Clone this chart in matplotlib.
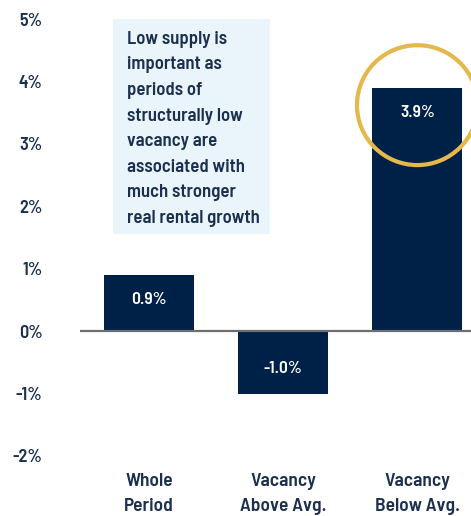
import matplotlib
matplotlib.use("Agg")
import matplotlib.pyplot as plt
from matplotlib.patches import Rectangle, Ellipse

categories = ["Whole\nPeriod", "Vacancy\nAbove Avg.", "Vacancy\nBelow Avg."]
values = [0.9, -1.0, 3.9]
value_labels = ["0.9%", "-1.0%", "3.9%"]
yticks = [-2, -1, 0, 1, 2, 3, 4, 5]
ytick_labels = ["-2%", "-1%", "0%", "1%", "2%", "3%", "4%", "5%"]
note = "Low supply is\nimportant as\nperiods of\nstructurally low\nvacancy are\nassociated with\nmuch stronger\nreal rental growth"

plt.rcParams['font.family'] = ["Barlow Semi Condensed", 'DejaVu Sans']

navy = "#002147"
txt = "#1B2F4E"

fig = plt.figure(figsize=(4.71, 5.16), dpi=100)
ax = fig.add_axes([80/471, (516-456)/516, 391/471, (456-19)/516])
x = list(range(len(categories)))
ax.bar(x, values, width=0.67, color=navy, zorder=2)
ax.axhline(0, color="#6D6E71", lw=1.6, zorder=3)
ax.set_xlim(-0.515, 2.4)
ax.set_ylim(-2, 5)
for s in ax.spines.values():
    s.set_visible(False)
ax.set_yticks(yticks)
ax.set_yticklabels(ytick_labels, fontsize=13, color=txt, fontweight="semibold")
ax.tick_params(axis="y", length=0, pad=27)
ax.set_xticks([])

for xi, v, l in zip(x, values, value_labels):
    ypos = v - 0.4 if v > 0 else v + 0.4
    ax.text(xi, ypos, l, ha="center", va="center", color="white",
            fontsize=12.5, fontweight="semibold", zorder=4)

for xi, c in zip(x, categories):
    ax.text(xi, -2.27, c, ha="center", va="top", color=txt, fontsize=14,
            fontweight="semibold", linespacing=1.6, clip_on=False)

# note box
ax.add_patch(Rectangle((-0.27, 1.55), 1.17, 3.46, facecolor="#EAF5FB", edgecolor="none", zorder=1))
ax.text(-0.165, 4.81, note, ha="left", va="top", color=txt, fontsize=13.5,
        fontweight="semibold", linespacing=1.66, zorder=2)

# highlight circle
ax.add_patch(Ellipse((2, 3.62), 0.9, 1.92, facecolor="none", edgecolor="#E5B84B", lw=3, zorder=5, clip_on=False))

fig.savefig("out.png", dpi=100)
